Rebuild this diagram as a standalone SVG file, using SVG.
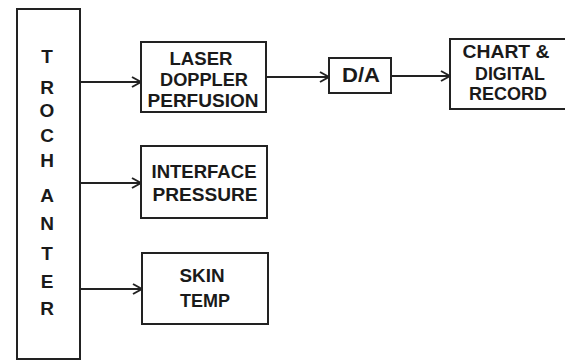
<svg xmlns="http://www.w3.org/2000/svg" width="565" height="360" viewBox="0 0 565 360">
<style>
.box{fill:#fff;stroke:#222;stroke-width:2}
.t{font-family:"Liberation Sans",Arial,sans-serif;font-weight:bold;font-size:19px;fill:#1a1a1a;text-anchor:middle}
.v{font-family:"Liberation Sans",Arial,sans-serif;font-weight:bold;font-size:19px;fill:#1a1a1a;text-anchor:middle}
.c{fill:none;stroke:#222;stroke-width:2}
</style>
<defs>
<marker id="ah" viewBox="0 0 12 12" refX="11" refY="6" markerWidth="12" markerHeight="12" markerUnits="userSpaceOnUse" orient="auto">
<polyline points="2,1 11,6 2,11" fill="none" stroke="#222" stroke-width="2"/>
</marker>
</defs>
<rect width="565" height="360" fill="#fff"/>
<g id="connectors">
<line class="c" x1="80" y1="82" x2="141" y2="82" marker-end="url(#ah)"/>
<line class="c" x1="80" y1="183" x2="141" y2="183" marker-end="url(#ah)"/>
<line class="c" x1="80" y1="289" x2="142" y2="289" marker-end="url(#ah)"/>
<line class="c" x1="266" y1="77" x2="329" y2="77" marker-end="url(#ah)"/>
<line class="c" x1="391" y1="76" x2="450" y2="76" marker-end="url(#ah)"/>
</g>
<g id="trochanter">
<rect class="box" x="17" y="9" width="63" height="350"/>
<text class="v" x="47" y="63">T</text>
<text class="v" x="47" y="94">R</text>
<text class="v" x="47" y="117">O</text>
<text class="v" x="47" y="142">C</text>
<text class="v" x="47" y="167">H</text>
<text class="v" x="47" y="202">A</text>
<text class="v" x="47" y="230">N</text>
<text class="v" x="47" y="260">T</text>
<text class="v" x="47" y="288">E</text>
<text class="v" x="47" y="315">R</text>
</g>
<g id="laser">
<rect class="box" x="141" y="42" width="125" height="70"/>
<text class="t" x="201" y="65" textLength="63" lengthAdjust="spacingAndGlyphs">LASER</text>
<text class="t" x="204" y="86" textLength="88" lengthAdjust="spacingAndGlyphs">DOPPLER</text>
<text class="t" x="203" y="107" textLength="111" lengthAdjust="spacingAndGlyphs">PERFUSION</text>
</g>
<g id="interface">
<rect class="box" x="141" y="146" width="126" height="72"/>
<text class="t" x="204" y="178" textLength="105" lengthAdjust="spacingAndGlyphs">INTERFACE</text>
<text class="t" x="205" y="201" textLength="105" lengthAdjust="spacingAndGlyphs">PRESSURE</text>
</g>
<g id="skin">
<rect class="box" x="142" y="253" width="126" height="71"/>
<text class="t" x="202" y="282" textLength="45" lengthAdjust="spacingAndGlyphs">SKIN</text>
<text class="t" x="205" y="307" textLength="50" lengthAdjust="spacingAndGlyphs">TEMP</text>
</g>
<g id="da">
<rect class="box" x="329" y="58" width="62" height="35"/>
<text class="t" x="361" y="82" textLength="38" lengthAdjust="spacingAndGlyphs" style="font-size:20px">D/A</text>
</g>
<g id="chart">
<rect class="box" x="450" y="39" width="120" height="70"/>
<text class="t" x="506" y="58" textLength="87" lengthAdjust="spacingAndGlyphs">CHART  &amp;</text>
<text class="t" x="510" y="80" textLength="70" lengthAdjust="spacingAndGlyphs">DIGITAL</text>
<text class="t" x="508" y="100" textLength="78" lengthAdjust="spacingAndGlyphs">RECORD</text>
</g>
</svg>
